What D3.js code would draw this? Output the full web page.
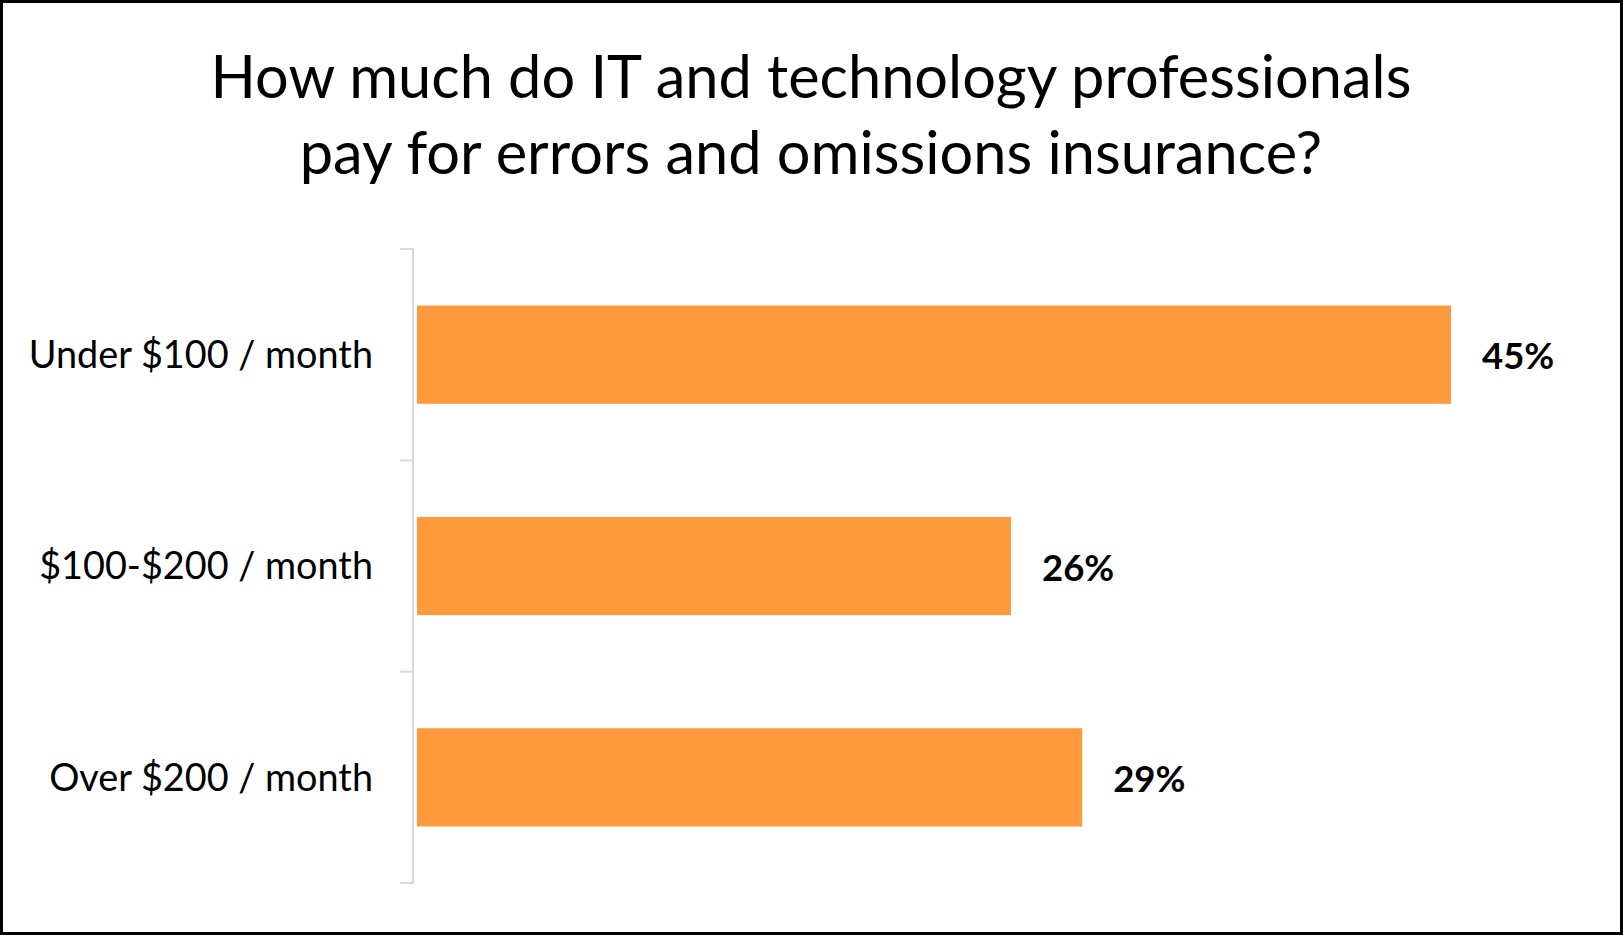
<!DOCTYPE html>
<meta charset="utf-8">
<script src="https://cdn.jsdelivr.net/npm/d3@7"></script>
<style>
  body { margin: 0; background: #fff; }
  svg { display: block; }
  .title { font-family: Lato, "Open Sans", sans-serif; font-size: 59.5px; fill: #000; }
  .cat { font-family: Lato, "Open Sans", sans-serif; font-size: 37.8px; fill: #000; }
  .val { font-family: Lato, "Open Sans", sans-serif; font-size: 36.5px; font-weight: bold; fill: #000; }
</style>
<body>
<div id="chart"></div>
<script>
var categories = ["Under $100 / month", "$100-$200 / month", "Over $200 / month"]
var values = [45, 25.85, 28.95]
var valueLabels = ["45%", "26%", "29%"]
var titleLines = ["How much do IT and technology professionals", "pay for errors and omissions insurance?"]

var W = 1623, H = 935
var axisX = 413

var svg = d3.select("#chart").append("svg")
    .attr("width", W)
    .attr("height", H)

// frame
svg.append("rect")
    .attr("x", 1.5).attr("y", 1.5)
    .attr("width", W - 3).attr("height", H - 3)
    .attr("fill", "#fff")
    .attr("stroke", "#000")
    .attr("stroke-width", 3)

svg.append("text")
    .attr("class", "title")
    .attr("text-anchor", "middle")
    .selectAll("tspan")
    .data(titleLines)
    .enter()
    .append("tspan")
    .attr("x", 811)
    .attr("y", function(d, i){ return 98 + i * 76 })
    .text(function(d){ return d })

var yScale = d3.scaleBand()
    .domain(categories)
    .range([249, 883])

var xScale = d3.scaleLinear()
    .domain([0, 45])
    .range([axisX + 4, 1451])

var barH = yScale.bandwidth() * 0.465

// axis line + ticks between categories
var axisG = svg.append("g").attr("class", "y axis")
axisG.append("line")
    .attr("x1", axisX).attr("x2", axisX)
    .attr("y1", yScale.range()[0]).attr("y2", yScale.range()[1])
    .attr("stroke", "#d9d9d9").attr("stroke-width", 2)

var tickPos = categories.map(function(c){ return yScale(c) })
tickPos.push(yScale.range()[1])
axisG.selectAll(".tick")
    .data(tickPos)
    .enter()
    .append("line")
    .attr("class", "tick")
    .attr("x1", axisX - 13).attr("x2", axisX + 1)
    .attr("y1", function(d){ return d }).attr("y2", function(d){ return d })
    .attr("stroke", "#d9d9d9").attr("stroke-width", 2)

axisG.selectAll(".cat")
    .data(categories)
    .enter()
    .append("text")
    .attr("class", "cat")
    .attr("text-anchor", "end")
    .attr("x", axisX - 40)
    .attr("y", function(d){ return yScale(d) + yScale.bandwidth() / 2 })
    .attr("dy", "0.35em")
    .text(function(d){ return d })

var bars = svg.append("g").selectAll("rect")
    .data(values)
    .enter()
    .append("rect")
    .attr("x", xScale(0))
    .attr("y", function(d, i){ return yScale(categories[i]) + (yScale.bandwidth() - barH) / 2 })
    .attr("width", function(d){ return xScale(d) - xScale(0) })
    .attr("height", barH)
    .attr("fill", "#fe9a3b")

svg.append("g").selectAll("text")
    .data(values)
    .enter()
    .append("text")
    .attr("class", "val")
    .attr("x", function(d){ return xScale(d) + 31 })
    .attr("y", function(d, i){ return yScale(categories[i]) + yScale.bandwidth() / 2 + 2 })
    .attr("dy", "0.35em")
    .text(function(d, i){ return valueLabels[i] })
</script>
</body>
